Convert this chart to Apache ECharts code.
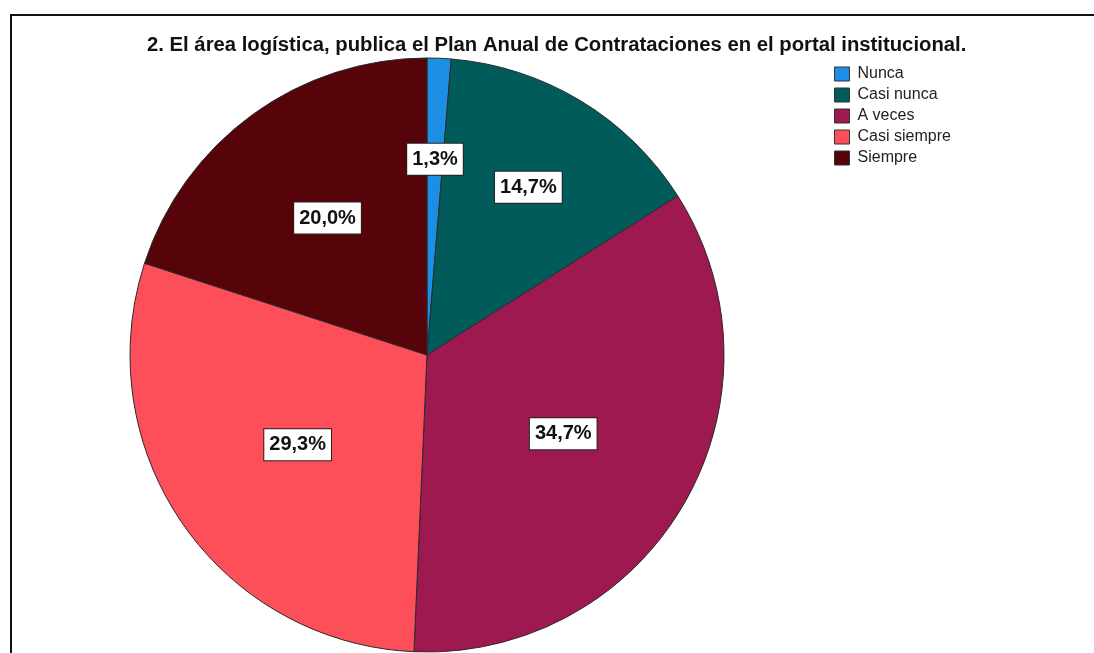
<!DOCTYPE html>
<html lang="es">
<head>
    <meta charset="UTF-8">
    <title>Plan Anual de Contrataciones</title>
    <style>
        html, body {margin: 0; padding: 0; background: #fff; overflow: hidden;}
        .frame {position: absolute; left: 10px; top: 14px; width: 1300px; height: 900px; border: 2px solid #111;}
        #main {position: absolute; left: 0; top: 0; width: 1094px; height: 653px;}
    </style>
</head>
<body>
<div class="frame"></div>
<div id="main"></div>
<script src="https://cdn.jsdelivr.net/npm/echarts@6/dist/echarts.min.js"></script>
<script type="text/javascript">
    // datos (porcentajes)
    var categorias = ['Nunca', 'Casi nunca', 'A veces', 'Casi siempre', 'Siempre'];
    var porcentajes = [1.3, 14.7, 34.7, 29.3, 20.0];
    var colores = ['#1c8fe4', '#015b5a', '#9d1950', '#fc4f59', '#560309'];

    var centro = [427, 355];
    var radio = 297;
    var total = porcentajes.reduce(function (a, b) { return a + b; }, 0);

    var datos = categorias.map(function (nombre, i) {
        return {name: nombre, value: porcentajes[i], itemStyle: {color: colores[i]}};
    });

    var myChart = echarts.init(document.getElementById('main'));
    myChart.setOption({
        animation: false,
        title: {
            text: '2. El área logística, publica el Plan Anual de Contrataciones en el portal institucional.',
            left: 142,
            top: 30,
            textStyle: {
                fontFamily: 'Liberation Sans, Arial, sans-serif',
                fontSize: 20.3,
                fontWeight: 'bold',
                color: '#111'
            }
        },
        legend: {
            orient: 'vertical',
            left: 834,
            top: 66,
            padding: 0,
            itemWidth: 15,
            itemHeight: 14,
            itemGap: 5,
            icon: 'rect',
            itemStyle: {borderColor: '#333', borderWidth: 1},
            textStyle: {
                fontFamily: 'Liberation Sans, Arial, sans-serif',
                fontSize: 16,
                color: '#222',
                padding: [0, 0, 0, 3]
            },
            data: categorias
        },
        series: [
            {
                name: 'Respuesta',
                type: 'pie',
                center: centro,
                radius: radio,
                startAngle: 90,
                clockwise: true,
                avoidLabelOverlap: false,
                data: datos,
                itemStyle: {borderColor: '#2a2a2a', borderWidth: 1},
                emphasis: {disabled: true},
                label: {
                    show: true,
                    position: 'inside',
                    formatter: function (p) {
                        return p.value.toFixed(1).replace('.', ',') + '%';
                    },
                    fontFamily: 'Liberation Sans, Arial, sans-serif',
                    fontSize: 20,
                    fontWeight: 'bold',
                    color: '#111',
                    backgroundColor: '#fff',
                    borderColor: '#222',
                    borderWidth: 1,
                    padding: [6, 5, 5, 5]
                },
                // las etiquetas de porciones pequeñas van más hacia el borde
                labelLayout: function (params) {
                    var share = porcentajes[params.dataIndex] / total;
                    var ratio = Math.max(0.53, Math.min(0.66, 0.66 - (share - 0.147) * 1.7));
                    var r = params.labelRect;
                    var lx = r.x + r.width / 2 - centro[0];
                    var ly = r.y + r.height / 2 - centro[1];
                    var d = Math.sqrt(lx * lx + ly * ly) || 1;
                    var k = radio * ratio / d;
                    return {x: centro[0] + lx * k, y: centro[1] + ly * k};
                }
            }
        ]
    });
</script>
</body>
</html>
